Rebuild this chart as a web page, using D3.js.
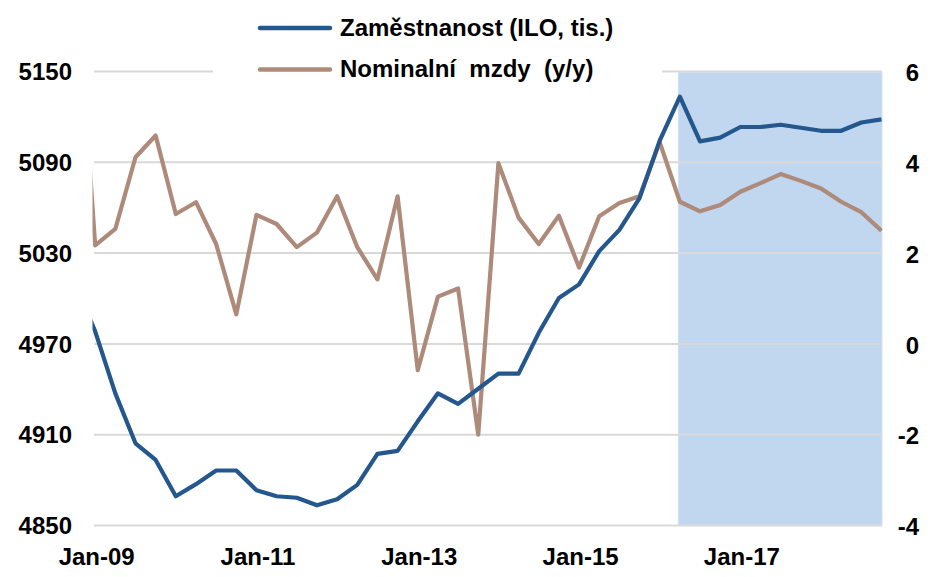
<!DOCTYPE html>
<html><head><meta charset="utf-8">
<script src="https://cdn.jsdelivr.net/npm/d3@7"></script>
<style>body{margin:0;background:#fff}svg{display:block}</style>
</head><body>
<svg id="c" width="944" height="577"></svg>
<script>
const quarters = ["Oct-08",
 "Jan-09","Apr-09","Jul-09","Oct-09","Jan-10","Apr-10","Jul-10","Oct-10",
 "Jan-11","Apr-11","Jul-11","Oct-11","Jan-12","Apr-12","Jul-12","Oct-12",
 "Jan-13","Apr-13","Jul-13","Oct-13","Jan-14","Apr-14","Jul-14","Oct-14",
 "Jan-15","Apr-15","Jul-15","Oct-15","Jan-16","Apr-16","Jul-16","Oct-16",
 "Jan-17","Apr-17","Jul-17","Oct-17","Jan-18","Apr-18","Jul-18","Oct-18"];
const employment = [5010,
 4978,4937,4904,4893,4869,4877,4886,4886,
 4873,4869,4868,4863,4867,4876.5,4897,4899,
 4918.5,4937,4930,4940,4950,4950,4977,5000,
 5009,5031,5045,5066,5104,5133,5103.5,5106,
 5113,5113,5114.5,5112.5,5110.5,5110.5,5116,5118];
const wages = [8.6,
 2.16,2.52,4.10,4.58,2.85,3.11,2.19,0.64,
 2.83,2.63,2.12,2.44,3.24,2.12,1.41,3.24,
 -0.59,1.03,1.21,-2.01,3.97,2.77,2.19,2.81,
 1.67,2.80,3.09,3.24,4.43,3.12,2.91,3.05,
 3.34,3.53,3.73,3.58,3.41,3.12,2.89,2.48];
const leftTicks = [4850,4910,4970,5030,5090,5150];
const rightTicks = [-4,-2,0,2,4,6];
const xLabels = ["Jan-09","Jan-11","Jan-13","Jan-15","Jan-17"];
const firstVisible = "Jan-09", lastVisible = "Oct-18";
const forecastStart = "Apr-16";
const seriesNames = ["Zaměstnanost (ILO, tis.)","Nominalní  mzdy  (y/y)"];

const BLUE="#24578d", BROWN="#ad8a79", SHADE="#c1d7ef", GRID="#d9d9d9";
const FONT="'Liberation Sans', Arial, sans-serif";

const svg = d3.select("#c");
const x = d3.scalePoint().domain(quarters).range([75.0, 881.5]);
const yL = d3.scaleLinear().domain([4850,5150]).range([525,71]);
const yR = d3.scaleLinear().domain([-4,6]).range([525,71]);
const gridL = 94, gridR = 882;

// forecast shading
svg.append("rect")
  .attr("x", x(forecastStart)-1.5).attr("y", yL(5150)+1.5)
  .attr("width", x(lastVisible)+0.5-(x(forecastStart)-1.5))
  .attr("height", yL(4850)-yL(5150)-1.5)
  .attr("fill", SHADE).attr("stroke","#cfe1f4").attr("stroke-width",1);

// gridlines
const gAxis = svg.append("g").attr("transform",`translate(${gridL},0)`)
  .call(d3.axisLeft(yL).tickValues(leftTicks).tickSize(-(gridR-gridL)).tickFormat(""));
gAxis.select(".domain").remove();
gAxis.selectAll(".tick line").attr("stroke",GRID).attr("stroke-width",2);

// clip
svg.append("clipPath").attr("id","pc").append("rect")
  .attr("x", 92.5).attr("y", 0).attr("width", 790).attr("height", 577);

const plot = svg.append("g").attr("clip-path","url(#pc)");
const lineL = d3.line().x((d,i)=>x(quarters[i])).y(d=>yL(d));
const lineR = d3.line().x((d,i)=>x(quarters[i])).y(d=>yR(d));
plot.append("path").datum(wages).attr("d",lineR)
  .attr("fill","none").attr("stroke",BROWN).attr("stroke-width",4.2).attr("stroke-linejoin","round");
plot.append("path").datum(employment).attr("d",lineL)
  .attr("fill","none").attr("stroke",BLUE).attr("stroke-width",4.2).attr("stroke-linejoin","round");

// legend
svg.append("rect").attr("x",213).attr("y",0).attr("width",449).attr("height",86).attr("fill","#fff");
const leg = svg.append("g");
[[BLUE,28,36],[BROWN,69.5,77]].forEach((s,i)=>{
  leg.append("line").attr("x1",260).attr("x2",330).attr("y1",s[1]).attr("y2",s[1])
    .attr("stroke",s[0]).attr("stroke-width",4.5).attr("stroke-linecap","round");
  leg.append("text").attr("x",340).attr("y",s[2]).text(seriesNames[i])
    .attr("font-family",FONT).attr("font-weight","bold").attr("font-size",24)
    .style("white-space","pre").attr("xml:space","preserve");
});

// axes labels
function styleAxis(g){
  g.select(".domain").remove();
  g.selectAll(".tick line").remove();
  g.selectAll("text").attr("font-family",FONT).attr("font-weight","bold")
   .attr("font-size",24).attr("fill","#000");
}
svg.append("g").attr("transform","translate(72,1)")
  .call(d3.axisLeft(yL).tickValues(leftTicks).tickSize(0).tickPadding(0).tickFormat(d3.format("d")))
  .call(styleAxis);
svg.append("g").attr("transform","translate(919,2)")
  .call(d3.axisLeft(yR).tickValues(rightTicks).tickSize(0).tickPadding(0).tickFormat(d=>d<0?"-"+Math.abs(d):d))
  .call(styleAxis);
svg.append("g").attr("transform","translate(1,548)")
  .call(d3.axisBottom(x).tickValues(xLabels).tickSize(0).tickPadding(0))
  .call(styleAxis);
</script>
</body></html>
